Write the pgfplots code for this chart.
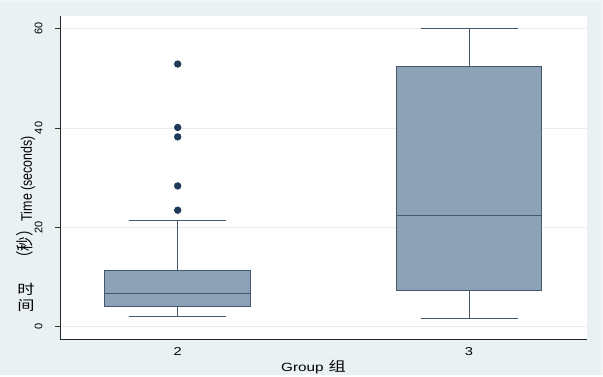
\documentclass[border=0pt]{standalone}
\usepackage{pgfplots}
\pgfplotsset{compat=1.18}
\usepackage{fontspec}
\usepackage{graphicx}
\setmainfont{Liberation Sans}
\newfontfamily\wide[FakeStretch=1.28]{Liberation Sans}
\newfontfamily\cjk{Noto Sans CJK SC}
\newfontfamily\cjkwide[FakeStretch=1.28]{Noto Sans CJK SC}
\definecolor{bg}{HTML}{EAF1F3}
\definecolor{edgec}{HTML}{F3F6F6}
\definecolor{boxfill}{HTML}{8DA2B7}
\definecolor{boxedge}{HTML}{45596C}
\definecolor{outl}{HTML}{1E3A58}
\definecolor{gridc}{HTML}{E8EDEE}
\begin{document}
\begin{tikzpicture}
\fill[bg] (0,0) rectangle (603bp,375bp);
\fill[edgec] (0,372.5bp) rectangle (603bp,375bp);
\fill[edgec] (600.5bp,0) rectangle (603bp,375bp);
\begin{axis}[
  at={(60bp,36bp)}, anchor=south west,
  width=527bp, height=323bp, scale only axis,
  xmin=1.596, xmax=3.405, ymin=-2.6, ymax=62.6,
  axis background/.style={fill=white},
  axis x line*=bottom, axis y line*=left,
  axis line style={black!85, line width=0.9pt, -},
  xtick={2,3}, ytick={0,20,40,60},
  tick align=outside, major tick length=5bp,
  xtick style={draw=none},
  ytick style={black!80, line width=0.8pt},
  ymajorgrids, major grid style={gridc, line width=0.8pt},
  /pgf/number format/assume math mode=true,
  xticklabel style={font=\wide\fontsize{11.5}{13}\selectfont},
  yticklabel style={rotate=90, anchor=south, yshift=9bp, font=\fontsize{11}{13}\selectfont},
  xlabel={\wide\fontsize{12}{14}\selectfont Group\hspace{5bp}{\cjkwide\fontsize{13.5}{15}\selectfont 组}},
  xlabel style={at={(axis description cs:0.481,-0.0858)}, anchor=center},
  ylabel={\scalebox{1}[1.22]{{\cjk\fontsize{14.5}{16}\selectfont （秒）}\hspace{1bp}{\fontsize{12.5}{14}\selectfont Time (seconds)}}},
  ylabel style={at={(axis description cs:-0.0645,0.428)}, anchor=center},
  every axis plot/.append style={line width=0.9pt},
]
% group 2
\addplot[draw=boxedge] coordinates {(2,11.2) (2,21.3)};
\addplot[draw=boxedge] coordinates {(2,3.9) (2,2.0)};
\addplot[draw=boxedge] coordinates {(1.8335,21.3) (2.1665,21.3)};
\addplot[draw=boxedge] coordinates {(1.8335,2.0) (2.1665,2.0)};
\addplot[draw=boxedge, fill=boxfill] coordinates {(1.75,3.9) (2.25,3.9) (2.25,11.2) (1.75,11.2) (1.75,3.9)};
\addplot[draw=boxedge] coordinates {(1.75,6.5) (2.25,6.5)};
\addplot[only marks, mark=*, mark size=3.2bp, mark options={draw=outl, fill=outl}] coordinates {(2,23.4) (2,28.3) (2,38.2) (2,40.1) (2,52.9)};
% group 3
\addplot[draw=boxedge] coordinates {(3,52.5) (3,60.0)};
\addplot[draw=boxedge] coordinates {(3,7.3) (3,1.5)};
\addplot[draw=boxedge] coordinates {(2.8335,60.0) (3.1665,60.0)};
\addplot[draw=boxedge] coordinates {(2.8335,1.5) (3.1665,1.5)};
\addplot[draw=boxedge, fill=boxfill] coordinates {(2.75,7.3) (3.25,7.3) (3.25,52.5) (2.75,52.5) (2.75,7.3)};
\addplot[draw=boxedge] coordinates {(2.75,22.4) (3.25,22.4)};
\end{axis}
\node[font=\cjkwide\fontsize{13.5}{16}\selectfont, align=center, inner sep=0pt] at (26bp,78bp) {时\\间};
\end{tikzpicture}
\end{document}
